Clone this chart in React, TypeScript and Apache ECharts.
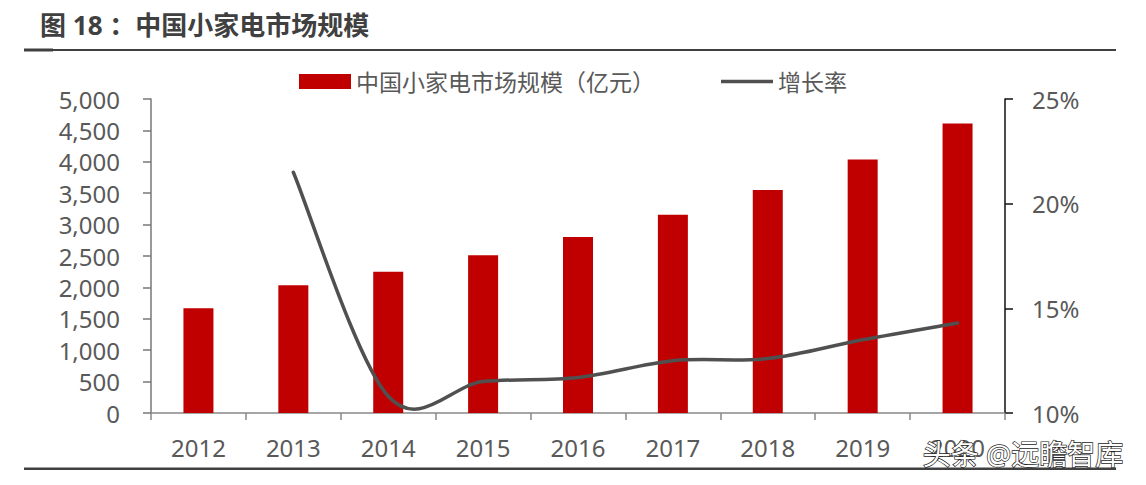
import React, { useEffect, useRef } from "react";
import * as echarts from "echarts";

const years = ["2012", "2013", "2014", "2015", "2016", "2017", "2018", "2019", "2020"];
const marketSize = [1667, 2033, 2250, 2510, 2802, 3155, 3552, 4035, 4610];
const growthRate = [null, 21.5, 10.8, 11.5, 11.7, 12.5, 12.6, 13.5, 14.3];
const leftTicks = { min: 0, max: 5000, interval: 500 };
const rightTicks = { min: 10, max: 25, interval: 5 };

const FONT = "'Noto Sans', 'Noto Sans CJK SC', sans-serif";
const TXT = "#595959";
const LINE_COLOR = "#505050";

// [category index, value] pairs for the non-empty growth values
const growthPoints: [number, number][] = growthRate
  .map((v, i) => (v == null ? null : ([i, v] as [number, number])))
  .filter((p): p is [number, number] => p !== null);

export default function App() {
  const ref = useRef<HTMLDivElement>(null);
  useEffect(() => {
    if (!ref.current) return;
    const chart = echarts.init(ref.current, null, { renderer: "svg" });
    chart.setOption({
      animation: false,
      backgroundColor: "#fff",
      textStyle: { fontFamily: FONT },
      graphic: [
        {
          type: "text",
          left: 40,
          top: 12,
          style: {
            text: "图 18 ：中国小家电市场规模",
            fontSize: 26,
            fontWeight: "bold",
            fontFamily: FONT,
            fill: "#404040",
          },
        },
        { type: "rect", shape: { x: 24, y: 49, width: 1092, height: 2 }, style: { fill: "#404040" } },
        { type: "rect", shape: { x: 24, y: 48.5, width: 29, height: 3 }, style: { fill: "#404040" } },
        { type: "rect", shape: { x: 24, y: 467.5, width: 1092, height: 2.5 }, style: { fill: "#404040" } },
        {
          type: "text",
          left: 922,
          top: 439,
          z: 100,
          style: {
            text: "头条 @远瞻智库",
            fontSize: 28,
            fontFamily: FONT,
            fill: "#ffffff",
            stroke: "#222",
            lineWidth: 1.4,
          },
        },
      ],
      legend: {
        left: 299,
        top: 70,
        padding: 0,
        itemWidth: 52,
        itemHeight: 15,
        itemGap: 66,
        textStyle: { fontSize: 23, color: TXT, fontFamily: FONT },
        data: [
          { name: "中国小家电市场规模（亿元）", icon: "rect" },
          {
            name: "增长率",
            icon: "path://M0,0L0.05,0L0,0.05ZM52,15L51.95,15L52,14.95ZM0,5.75L52,5.75L52,9.25L0,9.25Z",
            itemStyle: { color: LINE_COLOR },
          },
        ],
      },
      grid: { left: 151, right: 141, top: 99, bottom: 72, containLabel: false },
      xAxis: {
        type: "category",
        data: years,
        boundaryGap: true,
        axisLine: { lineStyle: { color: "#888", width: 1.5 } },
        axisTick: { show: true, length: 7, lineStyle: { color: "#888", width: 1.5 } },
        axisLabel: { fontSize: 24, color: TXT, margin: 22, fontFamily: FONT },
      },
      yAxis: [
        {
          type: "value",
          min: leftTicks.min,
          max: leftTicks.max,
          interval: leftTicks.interval,
          splitLine: { show: false },
          axisLine: { show: true, lineStyle: { color: "#777", width: 1.5 } },
          axisTick: { show: true, length: 8, lineStyle: { color: "#777", width: 1.5 } },
          axisLabel: {
            fontSize: 24,
            color: TXT,
            margin: 31,
            fontFamily: FONT,
            formatter: (v: number) => v.toLocaleString("en-US"),
          },
        },
        {
          type: "value",
          min: rightTicks.min,
          max: rightTicks.max,
          interval: rightTicks.interval,
          position: "right",
          splitLine: { show: false },
          axisLine: { show: true, lineStyle: { color: "#111", width: 1.5 } },
          axisTick: { show: true, length: 8, lineStyle: { color: "#111", width: 1.5 } },
          axisLabel: {
            fontSize: 24,
            color: TXT,
            margin: 27,
            fontFamily: FONT,
            formatter: "{value}%",
          },
        },
      ],
      series: [
        {
          name: "中国小家电市场规模（亿元）",
          type: "bar",
          data: marketSize,
          barWidth: 30,
          itemStyle: { color: "#C00000" },
        },
        {
          name: "增长率",
          type: "custom",
          yAxisIndex: 1,
          data: growthPoints,
          encode: { x: 0, y: 1 },
          itemStyle: { color: LINE_COLOR },
          silent: true,
          clip: false,
          z: 5,
          renderItem: (params: any, api: any) => {
            if (params.dataIndex !== 0) return null;
            const pts = growthPoints.map(([i, v]) => api.coord([i, v]));
            const n = pts.length;
            let d = `M${pts[0][0]},${pts[0][1]}`;
            for (let k = 0; k < n - 1; k++) {
              const p0 = pts[Math.max(0, k - 1)];
              const p1 = pts[k];
              const p2 = pts[k + 1];
              const p3 = pts[Math.min(n - 1, k + 2)];
              const c1x = p1[0] + (p2[0] - p0[0]) / 6;
              const c1y = p1[1] + (p2[1] - p0[1]) / 6;
              const c2x = p2[0] - (p3[0] - p1[0]) / 6;
              const c2y = p2[1] - (p3[1] - p1[1]) / 6;
              d += `C${c1x},${c1y},${c2x},${c2y},${p2[0]},${p2[1]}`;
            }
            return {
              type: "path",
              shape: { pathData: d },
              style: { fill: "none", stroke: LINE_COLOR, lineWidth: 3.5, lineCap: "round" },
            };
          },
        },
      ],
    });
    return () => chart.dispose();
  }, []);
  return (
    <div
      ref={ref}
      style={{ position: "fixed", left: 0, top: 0, width: 1146, height: 485 }}
    />
  );
}
